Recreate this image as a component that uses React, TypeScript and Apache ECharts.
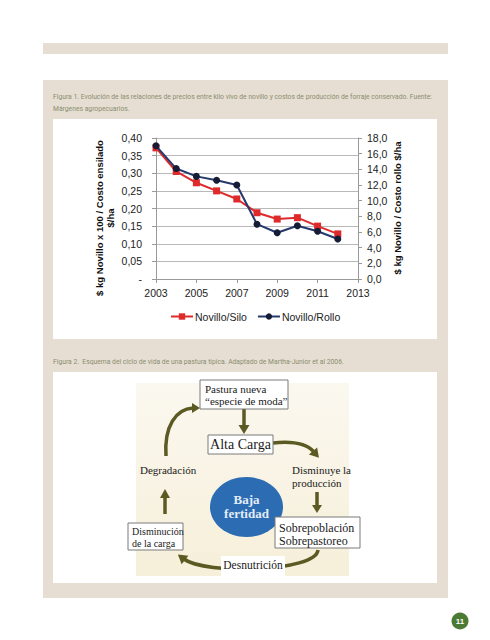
import React, { useEffect, useRef } from 'react';
import * as echarts from 'echarts';

// ---- Chart data (Figura 1) ----
const years = ['2003', '2004', '2005', '2006', '2007', '2008', '2009', '2010', '2011', '2012', '2013'];
const siloValues = [0.372, 0.305, 0.273, 0.25, 0.227, 0.188, 0.17, 0.174, 0.15, 0.128];
const rolloValues = [17.0, 14.1, 13.1, 12.6, 12.0, 7.0, 5.9, 6.8, 6.1, 5.1];
const seriesNames = ['Novillo/Silo', 'Novillo/Rollo'];
const leftAxisName = ['$ kg Novillo x 100 / Costo ensilado', '$/ha'];
const rightAxisName = '$ kg Novillo / Costo rollo $/ha';
const caption1 = [
  'Figura 1. Evolución de las relaciones de precios entre kilo vivo de novillo y costos de producción de forraje conservado. Fuente:',
  'Márgenes agropecuarios.',
];
const caption2 = 'Figura 2.  Esquema del ciclo de vida de una pastura típica. Adaptado de Martha-Junior et al 2006.';

// ---- Diagram labels (Figura 2) ----
const boxPastura = ['Pastura nueva', '“especie de moda”'];
const boxAlta = 'Alta Carga';
const labelDegradacion = 'Degradación';
const labelDisminuye = ['Disminuye la', 'producción'];
const circleLabel = ['Baja', 'fertidad'];
const boxDisminucion = ['Disminución', 'de la carga'];
const boxSobre = ['Sobrepoblación', 'Sobrepastoreo'];
const labelDesnutricion = 'Desnutrición';
const pageNumber = '11';

const OLIVE = '#5c5a23';
const SERIF = '"Liberation Serif", "DejaVu Serif", serif';
const SANS = '"Liberation Sans", Arial, sans-serif';
const CAPTION_COLOR = '#8a8d70';

function arrowHead(x: number, y: number, angle: number, len = 9, half = 5.5) {
  const c = Math.cos(angle);
  const s = Math.sin(angle);
  const tx = x + len * c;
  const ty = y + len * s;
  return {
    type: 'polygon',
    shape: { points: [[tx, ty], [x - half * s, y + half * c], [x + half * s, y - half * c]] },
    style: { fill: OLIVE },
  };
}

function shaft(x1: number, y1: number, x2: number, y2: number) {
  return { type: 'line', shape: { x1, y1, x2, y2 }, style: { stroke: OLIVE, lineWidth: 3.5 } };
}

function curve(pts: number[][]) {
  return {
    type: 'bezierCurve',
    shape: {
      x1: pts[0][0], y1: pts[0][1],
      cpx1: pts[1][0], cpy1: pts[1][1],
      cpx2: pts[2][0], cpy2: pts[2][1],
      x2: pts[3][0], y2: pts[3][1],
    },
    style: { stroke: OLIVE, lineWidth: 3.5, fill: null },
  };
}

function box(x: number, y: number, w: number, h: number) {
  return { type: 'rect', shape: { x, y, width: w, height: h }, style: { fill: '#ffffff', stroke: '#7a7a7a', lineWidth: 1 } };
}

function txt(x: number, y: number, text: string, size: number, opts: any = {}) {
  return {
    type: 'text',
    x,
    y,
    style: {
      text,
      fontSize: size,
      fontFamily: opts.family || SERIF,
      fontWeight: opts.weight || 'normal',
      fill: opts.fill || '#1a1a1a',
      align: opts.align || 'left',
      verticalAlign: 'middle',
      lineHeight: opts.lineHeight,
    },
    rotation: opts.rotation || 0,
    scaleX: opts.scaleX || 1,
  };
}

const fmtComma = (v: number, d: number) => v.toFixed(d).replace('.', ',');

export default function App() {
  const ref = useRef<HTMLDivElement>(null);

  useEffect(() => {
    if (!ref.current) return;
    const chart = echarts.init(ref.current, null, { renderer: 'svg' });

    const angle = (dx: number, dy: number) => Math.atan2(dy, dx);
    const cap = { family: 'Roboto, sans-serif', fill: CAPTION_COLOR, scaleX: 0.89 };

    const graphics: any[] = [
      // captions
      txt(53, 96, caption1[0], 7.6, cap),
      txt(53, 108, caption1[1], 7.6, cap),
      txt(53, 361, caption2, 7.6, cap),
      // axis names
      txt(105, 218, leftAxisName.join('\n'), 9.5, { family: SANS, weight: 'bold', align: 'center', rotation: Math.PI / 2, lineHeight: 11, fill: '#111' }),
      txt(397, 208, rightAxisName, 9.5, { family: SANS, weight: 'bold', align: 'center', rotation: Math.PI / 2, fill: '#111' }),

      // ---- Diagram ----
      // Pastura -> Alta Carga
      shaft(244, 409, 244, 426),
      arrowHead(244, 425, Math.PI / 2, 9, 5.5),
      // Alta Carga -> Disminuye
      curve([[273, 443], [292, 441], [307, 444], [314, 452]]),
      arrowHead(313, 451, angle(7, 8), 9, 5.5),
      // Degradación -> Pastura
      curve([[166, 456], [164, 426], [176, 409], [193, 408]]),
      arrowHead(192, 408, angle(10, 0), 8, 5),
      // Disminuye -> Sobrepoblación
      shaft(317, 492, 317, 506),
      arrowHead(317, 505, Math.PI / 2, 8, 5),
      // Disminución -> Degradación
      shaft(165, 514, 165, 497),
      arrowHead(165, 498, -Math.PI / 2, 9, 5),
      // Sobrepoblación -> Disminución
      curve([[318, 550], [316, 572], [205, 575], [184, 559]]),
      arrowHead(185, 560, angle(-22, -17), 9, 5.5),

      // boxes
      box(200, 380, 88, 29),
      txt(205, 389, boxPastura[0], 11),
      txt(205, 401, boxPastura[1], 11),
      box(208, 435, 65, 19),
      txt(240.5, 444.5, boxAlta, 14, { align: 'center' }),
      txt(140, 470, labelDegradacion, 11),
      txt(292, 470, labelDisminuye[0], 11),
      txt(292, 483, labelDisminuye[1], 11),
      {
        type: 'ellipse',
        shape: { cx: 246.5, cy: 507, rx: 36.5, ry: 30 },
        style: { fill: '#2b6cb3' },
      },
      txt(246.5, 499, circleLabel[0], 13, { align: 'center', weight: 'bold', fill: '#e4ecf7' }),
      txt(246.5, 513, circleLabel[1], 13, { align: 'center', weight: 'bold', fill: '#e4ecf7' }),
      box(128, 523, 55, 27),
      txt(132, 531, boxDisminucion[0], 10),
      txt(132, 543, boxDisminucion[1], 10),
      box(275, 517, 85, 31),
      txt(279, 527.5, boxSobre[0], 12),
      txt(279, 540.5, boxSobre[1], 12),
      { type: 'rect', shape: { x: 221, y: 556, width: 64, height: 20 }, style: { fill: '#ffffff' } },
      txt(253, 565, labelDesnutricion, 11.5, { align: 'center' }),

      // page number
      { type: 'circle', shape: { cx: 460, cy: 621, r: 8.5 }, style: { fill: '#4b7a34' } },
      txt(460, 621.5, pageNumber, 8, { align: 'center', family: SANS, weight: 'bold', fill: '#ffffff' }),
    ];

    chart.setOption({
      animation: false,
      grid: { left: 156, right: 132, top: 138, bottom: 361, containLabel: false },
      legend: {
        data: seriesNames,
        left: 165,
        top: 306,
        itemWidth: 22,
        itemHeight: 8,
        itemGap: 10,
        textStyle: { fontFamily: SANS, fontSize: 10.5, color: '#222', padding: [0, 0, 0, -3] },
      },
      xAxis: {
        type: 'category',
        data: years,
        boundaryGap: false,
        axisLine: { lineStyle: { color: '#9a9a9a', width: 1 } },
        axisTick: { show: true, interval: 1, length: 4, lineStyle: { color: '#9a9a9a' } },
        axisLabel: { interval: 1, fontFamily: SANS, fontSize: 10.5, color: '#222', margin: 8 },
        splitLine: { show: false },
      },
      yAxis: [
        {
          type: 'value',
          min: 0,
          max: 0.4,
          interval: 0.05,
          position: 'left',
          axisLine: { show: true, lineStyle: { color: '#9a9a9a' } },
          axisTick: { show: true, length: 4, lineStyle: { color: '#9a9a9a' } },
          axisLabel: {
            fontFamily: SANS,
            fontSize: 10.5,
            color: '#222',
            margin: 14,
            formatter: (v: number) => (v === 0 ? '-' : fmtComma(v, 2)),
          },
          splitLine: { show: true, lineStyle: { color: '#b9b9b9', width: 1 } },
        },
        {
          type: 'value',
          min: 0,
          max: 18,
          interval: 2,
          position: 'right',
          axisLine: { show: true, lineStyle: { color: '#9a9a9a' } },
          axisTick: { show: true, length: 4, lineStyle: { color: '#9a9a9a' } },
          axisLabel: {
            fontFamily: SANS,
            fontSize: 10.5,
            color: '#222',
            margin: 9,
            formatter: (v: number) => fmtComma(v, 1),
          },
          splitLine: { show: false },
        },
      ],
      series: [
        {
          name: seriesNames[0],
          type: 'line',
          yAxisIndex: 0,
          data: siloValues,
          symbol: 'rect',
          symbolSize: 7,
          itemStyle: { color: '#df2a2c' },
          lineStyle: { color: '#df2a2c', width: 2 },
          z: 3,
        },
        {
          name: seriesNames[1],
          type: 'line',
          yAxisIndex: 1,
          data: rolloValues,
          symbol: 'circle',
          symbolSize: 7,
          itemStyle: { color: '#151c35' },
          lineStyle: { color: '#25396c', width: 2 },
          z: 4,
        },
      ],
      graphic: { elements: graphics },
    });

    return () => chart.dispose();
  }, []);

  return (
    <div style={{ position: 'absolute', left: 0, top: 0, width: 490, height: 640, background: '#ffffff', overflow: 'hidden' }}>
      <div style={{ position: 'absolute', left: 43, top: 43, width: 405, height: 11, background: '#e6ded2' }} />
      <div style={{ position: 'absolute', left: 43, top: 80, width: 405, height: 518, background: '#e6ded2' }} />
      <div style={{ position: 'absolute', left: 53, top: 119, width: 384, height: 220, background: '#ffffff' }} />
      <div style={{ position: 'absolute', left: 53, top: 372, width: 384, height: 211, background: '#ffffff' }} />
      <div
        style={{
          position: 'absolute',
          left: 136,
          top: 383,
          width: 213,
          height: 193,
          background: 'linear-gradient(#fbf8f0, #f6efd9)',
        }}
      />
      <div ref={ref} style={{ position: 'absolute', left: 0, top: 0, width: 490, height: 640 }} />
    </div>
  );
}
